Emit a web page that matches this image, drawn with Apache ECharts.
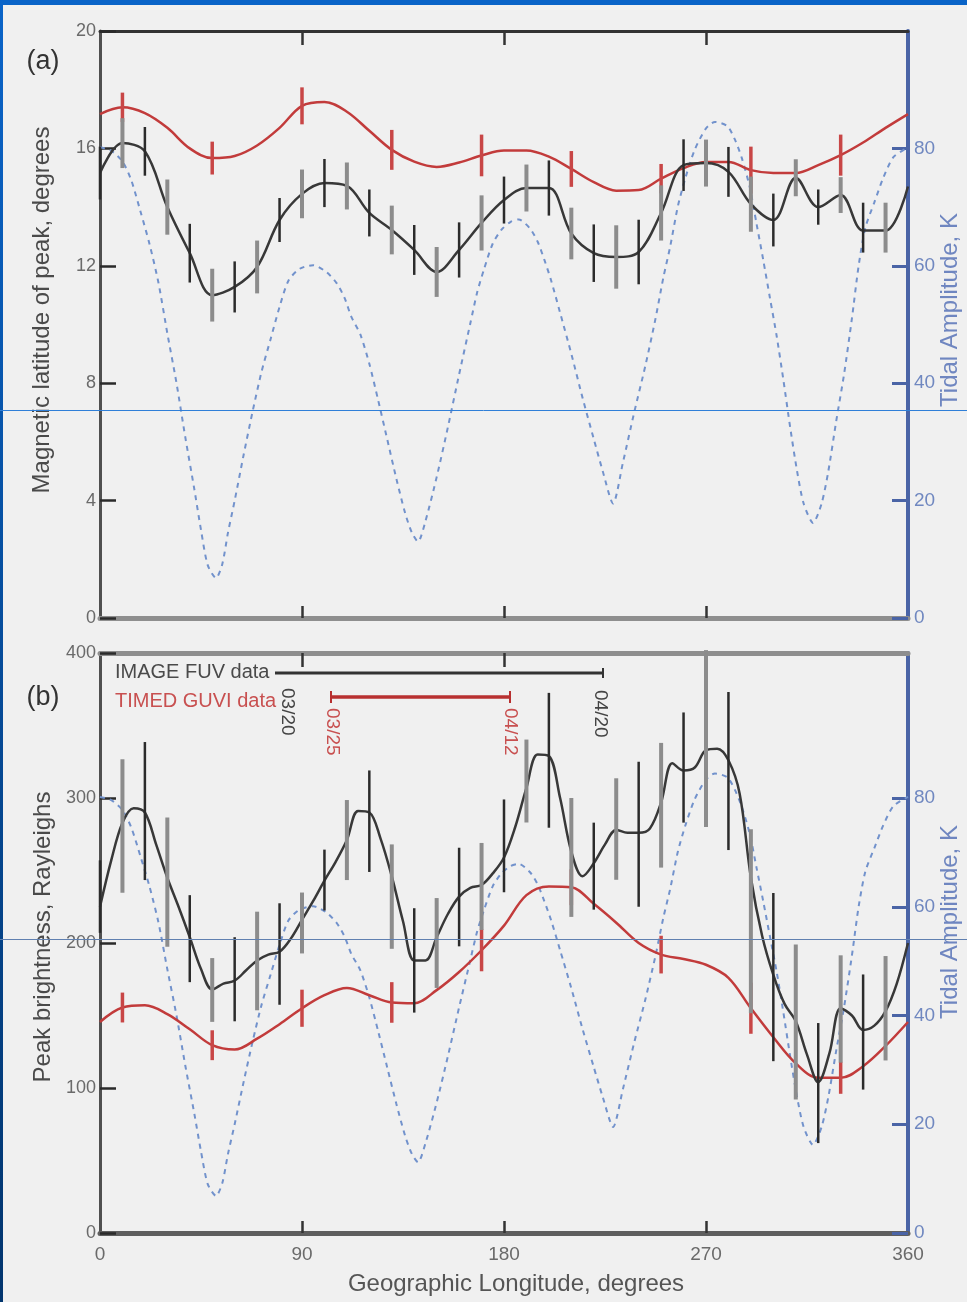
<!DOCTYPE html>
<html><head><meta charset="utf-8">
<script src="https://cdn.jsdelivr.net/npm/echarts@6/dist/echarts.min.js"></script>
<style>html,body{margin:0;padding:0;background:#f0f0f0;}#c{width:967px;height:1302px;}</style>
</head><body><div id="c"></div>
<script>
// ---------- data ----------
const lon10 = [0,10,20,30,40,50,60,70,80,90,100,110,120,130,140,150,160,170,180,190,200,210,220,230,240,250,260,270,280,290,300,310,320,330,340,350,360];
const lon5 = [0,5,10,15,20,25,30,35,40,45,50,55,60,65,70,75,80,85,90,95,100,105,110,115,120,125,130,135,140,145,150,155,160,165,170,175,180,185,190,195,200,205,210,215,220,225,230,235,240,245,250,255,260,265,270,275,280,285,290,295,300,305,310,315,320,325,330,335,340,345,350,355,360];
const barLonBlack = [0,10,20,30,40,50,60,70,80,90,100,110,120,130,140,150,160,170,180,190,200,210,220,230,240,250,260,270,280,290,300,310,320,330,340,350];
const barLonRed = [10,50,90,130,170,210,250,290,330];

// (a) magnetic latitude of peak, degrees
const latImageA = [15.16,16.18,15.9,14.0,12.43,11.0,11.28,11.96,13.56,14.45,14.82,14.72,13.8,13.22,12.54,11.79,12.54,13.46,14.24,14.65,14.65,13.1,12.43,12.3,12.47,13.8,15.43,15.5,15.2,14.1,13.56,15.0,14.0,14.41,13.2,13.2,14.7];
const latImageBarA = [15.16,16.18,15.9,14.0,12.43,11.0,11.28,11.96,13.56,14.45,14.82,14.72,13.8,13.22,12.54,11.79,12.54,13.46,14.24,14.65,14.65,13.1,12.43,12.3,12.47,13.8,15.43,15.5,15.2,14.1,13.56,15.0,14.0,14.41,13.3,13.3];
const latImageErrA = [0.9,0.85,0.83,0.94,1.0,0.9,0.87,0.9,0.75,0.83,0.82,0.8,0.8,0.83,0.85,0.85,0.94,0.94,0.8,0.8,0.94,0.88,0.98,1.08,1.1,0.94,0.88,0.8,0.85,0.94,0.9,0.63,0.6,0.61,0.85,0.85];
const latTimedA = [17.17,17.4,17.2,16.7,16.0,15.67,15.74,16.1,16.7,17.45,17.58,17.25,16.6,15.95,15.55,15.37,15.52,15.76,15.93,15.93,15.72,15.3,14.85,14.56,14.58,14.97,15.33,15.54,15.54,15.26,15.16,15.16,15.43,15.77,16.2,16.7,17.17];
const latTimedBarA = [17.4,15.67,17.45,15.95,15.76,15.3,14.97,15.26,15.77];
const latTimedErrA = [0.5,0.56,0.63,0.68,0.71,0.61,0.5,0.8,0.7];

// (b) peak brightness, Rayleighs
const brightImageB = [225,257,283,293,290,268,245,225,204,182,168,172,174,181,188,192,194,203,216,229,243,256,271,291,290,272,246,215,188,188,204,220,232,238,240,248,259,280,307,330,329,300,263,246,255,268,278,276,276,279,297,324,319,321,333,334,326,303,245,205,178,158,146,123,104,124,155,150,140,143,153,172,200];
const brightImageBarB = [232,280.7,291,242,203,167.6,175,187.6,192.4,213.8,243.4,271,284,232,188,200,231.7,239,267,311.7,326,259,253,278.6,275,295,321,341,318.6,215,176.5,145.5,103.4,154.5,138.6,155];
const brightImageErrB = [25,46,47.6,44.5,30,22,29,34,35,21,21,27.6,35,36,36,31,34,30,32,28.6,46.5,41,30,35,50,43,38,61,54.5,63.4,58,53.4,41.4,37,39.7,36];
const brightTimedB = [145.5,155.5,157,151,140.5,129.5,126.5,134,144,155,164,169,164,159,158.5,167.5,180,195,212,233,239,238.5,227,214,200,192,189,185,176,155,135,117,107,107,115,129,145.5];
const brightTimedBarB = [155.5,129.5,155,159,195,238.5,192,155,107];
const brightTimedErrB = [10.3,10.3,12.8,14,14.5,12.4,13,17.6,11];

// tidal amplitude, K (both panels)
const tideLon = [0,5,10,14,18,22,26,30,34,38,42,45,48,51.7,54.5,57,60,64,68,72,76,80,84,89,95,101,105.5,109,112,116,120,124,128,132,136,139,141.7,145,150,155,160,165,168,171,175,179,183,186.5,191.5,195,198,201,205,210,215,220,224,228.6,233,238,243,247.5,251,254,257.5,261,265,270,274,279.5,283,286,289.5,292.5,295.5,298.5,301.5,304.5,307.5,310.5,313.5,317.7,321.5,324.5,328,331.5,335,338,341,345,349,353.5,360];
const tideAmp = [80.2,79.6,77.8,74.5,69.3,63.8,57.2,48.5,40.2,30.8,22,15,9,6.8,9.2,14.5,20,27.8,35.2,42,47.5,53,57.5,59.5,60.1,58.9,57,54.5,51.3,48.3,43.3,37,30.4,23.8,17.8,14.5,13,16.5,24,32.5,41.5,50.2,55.4,59.3,63.8,66.2,67.5,67.9,66.4,64.1,61,57.5,52,45,37.5,30.5,25,19.5,26.5,35,43,51,58,63.2,70.2,75.2,79.8,83.4,84.5,83.8,81.4,78.3,73.4,67.2,61,54.5,48,40.5,32.5,25.2,19.5,16.2,19.5,25,33.5,41.5,51,60,66.5,70.8,75,78.5,80.2];

const xTicks = [0,90,180,270,360];
const latTicks = [0,4,8,12,16,20];
const brightTicks = [0,100,200,300,400];
const tideTicks = [0,20,40,60,80];

// ---------- helpers ----------
const FONT = '"Liberation Sans", Arial, Helvetica, sans-serif';
const pairs = (xs, ys) => xs.map((x, i) => [x, ys[i]]);
const triples = (xs, c, e) => xs.map((x, i) => [x, c[i], e[i]]);

function barRenderer(kind) {
  return function (params, api) {
    const x = api.value(0), c = api.value(1), e = api.value(2);
    const p1 = api.coord([x, c + e]);
    const p2 = api.coord([x, c - e]);
    let stroke, lw;
    if (kind === 'black') {
      const odd = Math.round(x / 10) % 2 === 1;
      stroke = odd ? '#8c8c8c' : '#2b2b2b';
      lw = odd ? 4 : 2.5;
    } else {
      stroke = '#c84646'; lw = 3.5;
    }
    return { type: 'line', shape: { x1: p1[0], y1: p1[1], x2: p2[0], y2: p2[1] },
             style: { stroke: stroke, lineWidth: lw } };
  };
}

const chart = echarts.init(document.getElementById('c'), null, { renderer: 'canvas' });

function xAx(grid, pos, lineColor, lineWidth, showLabel) {
  return {
    gridIndex: grid, type: 'value', position: pos, min: 0, max: 360, interval: 90,
    axisLine: { show: true, onZero: false, lineStyle: { color: lineColor, width: lineWidth } },
    axisTick: { show: true, inside: true, length: pos === 'top' ? 14 : 12, customValues: [90,180,270], lineStyle: { color: '#333', width: 2.5 } },
    axisLabel: { show: showLabel, customValues: xTicks, color: '#6a6a6a', fontSize: 19, fontFamily: FONT, margin: 12 },
    splitLine: { show: false }
  };
}
function yLeft(grid, max, interval, ticks) {
  return {
    gridIndex: grid, type: 'value', position: 'left', min: 0, max: max, interval: interval,
    axisLine: { show: true, onZero: false, lineStyle: { color: '#505050', width: 3 } },
    axisTick: { show: true, inside: true, length: 16, customValues: ticks, lineStyle: { color: '#2a2a2a', width: 2.5 } },
    axisLabel: { customValues: ticks, color: '#6a6a6a', fontSize: 18, fontFamily: FONT, margin: 4 },
    splitLine: { show: false }
  };
}
function yRight(grid, max) {
  return {
    gridIndex: grid, type: 'value', position: 'right', min: 0, max: max, interval: 20,
    axisLine: { show: true, onZero: false, lineStyle: { color: '#4a64a6', width: 4 } },
    axisTick: { show: true, inside: true, length: 16, customValues: tideTicks, lineStyle: { color: '#4a64a6', width: 3 } },
    axisLabel: { customValues: tideTicks, color: '#7088c0', fontSize: 19, fontFamily: FONT, margin: 6 },
    splitLine: { show: false }
  };
}

function tideSeries(xi, yi) {
  return { type: 'line', xAxisIndex: xi, yAxisIndex: yi, data: pairs(tideLon, tideAmp),
    smooth: 0.25, showSymbol: false, silent: true, z: 2,
    lineStyle: { color: '#7292cc', width: 2, type: [5, 5] } };
}
function curve(xi, yi, xs, ys, color, z) {
  return { type: 'line', xAxisIndex: xi, yAxisIndex: yi, data: pairs(xs, ys),
    smooth: 0.35, showSymbol: false, silent: true, z: z,
    lineStyle: { color: color, width: 2.5 } };
}
function bars(xi, yi, xs, c, e, kind, z) {
  return { type: 'custom', xAxisIndex: xi, yAxisIndex: yi, data: triples(xs, c, e),
    encode: { x: 0, y: 1 }, renderItem: barRenderer(kind), silent: true, z: z };
}

function txt(x, y, text, size, color, opts) {
  opts = opts || {};
  return { type: 'text', x: x, y: y, rotation: opts.rotation || 0, z: 50,
    style: { text: text, fill: color, font: size + 'px ' + FONT,
      textAlign: opts.align || 'center', textVerticalAlign: opts.valign || 'middle',
      align: opts.align || 'center', verticalAlign: opts.valign || 'middle' } };
}
function ln(x1, y1, x2, y2, color, w, z) {
  return { type: 'line', z: z || 50, shape: { x1: x1, y1: y1, x2: x2, y2: y2 }, style: { stroke: color, lineWidth: w } };
}

const option = {
  backgroundColor: '#f0f0f0',
  animation: false,
  grid: [
    { left: 100, right: 59, top: 31, height: 587 },
    { left: 100, right: 59, top: 653, height: 580 }
  ],
  xAxis: [
    xAx(0, 'bottom', '#8e8e8e', 5, false),
    xAx(0, 'top', '#333333', 3, false),
    xAx(1, 'bottom', '#5e5e5e', 5, true),
    xAx(1, 'top', '#8e8e8e', 5, false)
  ],
  yAxis: [
    yLeft(0, 20, 4, latTicks),
    yRight(0, 100),
    yLeft(1, 400, 100, brightTicks),
    yRight(1, 320 / 3)
  ],
  series: [
    tideSeries(0, 1),
    curve(0, 0, lon10, latTimedA, '#c23b3b', 3),
    bars(0, 0, barLonRed, latTimedBarA, latTimedErrA, 'red', 4),
    curve(0, 0, lon10, latImageA, '#383838', 5),
    bars(0, 0, barLonBlack, latImageBarA, latImageErrA, 'black', 6),

    tideSeries(2, 3),
    curve(2, 2, lon10, brightTimedB, '#c23b3b', 3),
    bars(2, 2, barLonRed, brightTimedBarB, brightTimedErrB, 'red', 4),
    curve(2, 2, lon5, brightImageB, '#383838', 5),
    bars(2, 2, barLonBlack, brightImageBarB, brightImageErrB, 'black', 6)
  ],
  graphic: [
    // panel labels
    txt(43, 62, '(a)', 27, '#333'),
    txt(43, 698, '(b)', 27, '#333'),
    // axis names
    txt(42, 310, 'Magnetic latitude of peak, degrees', 24, '#4a4a4a', { rotation: Math.PI / 2 }),
    txt(950, 310, 'Tidal Amplitude, K', 24, '#6f86c0', { rotation: Math.PI / 2 }),
    txt(43, 937, 'Peak brightness, Rayleighs', 24, '#4a4a4a', { rotation: Math.PI / 2 }),
    txt(950, 922, 'Tidal Amplitude, K', 24, '#6f86c0', { rotation: Math.PI / 2 }),
    txt(516, 1284, 'Geographic Longitude, degrees', 24, '#555'),
    // legend
    txt(115, 672, 'IMAGE FUV data', 20, '#4a4a4a', { align: 'left' }),
    txt(115, 701, 'TIMED GUVI data', 20, '#c85050', { align: 'left' }),
    ln(275, 673, 603, 673, '#333', 3),
    ln(603, 668, 603, 678, '#333', 2),
    ln(331, 697, 510, 697, '#b83030', 3.5),
    ln(331, 691, 331, 703, '#b83030', 2),
    ln(510, 691, 510, 703, '#b83030', 2),
    txt(287, 688, '03/20', 19, '#444', { rotation: -Math.PI / 2, align: 'left' }),
    txt(600, 690, '04/20', 19, '#444', { rotation: -Math.PI / 2, align: 'left' }),
    txt(332, 708, '03/25', 19, '#c85050', { rotation: -Math.PI / 2, align: 'left' }),
    txt(510, 708, '04/12', 19, '#c85050', { rotation: -Math.PI / 2, align: 'left' }),
    // frame strips and scan lines
    { type: 'rect', z: 100, shape: { x: 0, y: 0, width: 967, height: 5 }, style: { fill: '#0a64c8' } },
    { type: 'rect', z: 100, shape: { x: 0, y: 0, width: 3, height: 1302 },
      style: { fill: new echarts.graphic.LinearGradient(0, 0, 0, 1, [{ offset: 0, color: '#0a64c8' }, { offset: 1, color: '#02356e' }]) } },
    ln(0, 410.5, 967, 410.5, '#2f7fd8', 1, 100),
    ln(0, 939.5, 967, 939.5, '#6080b0', 1, 100)
  ]
};
chart.setOption(option);
</script></body></html>
